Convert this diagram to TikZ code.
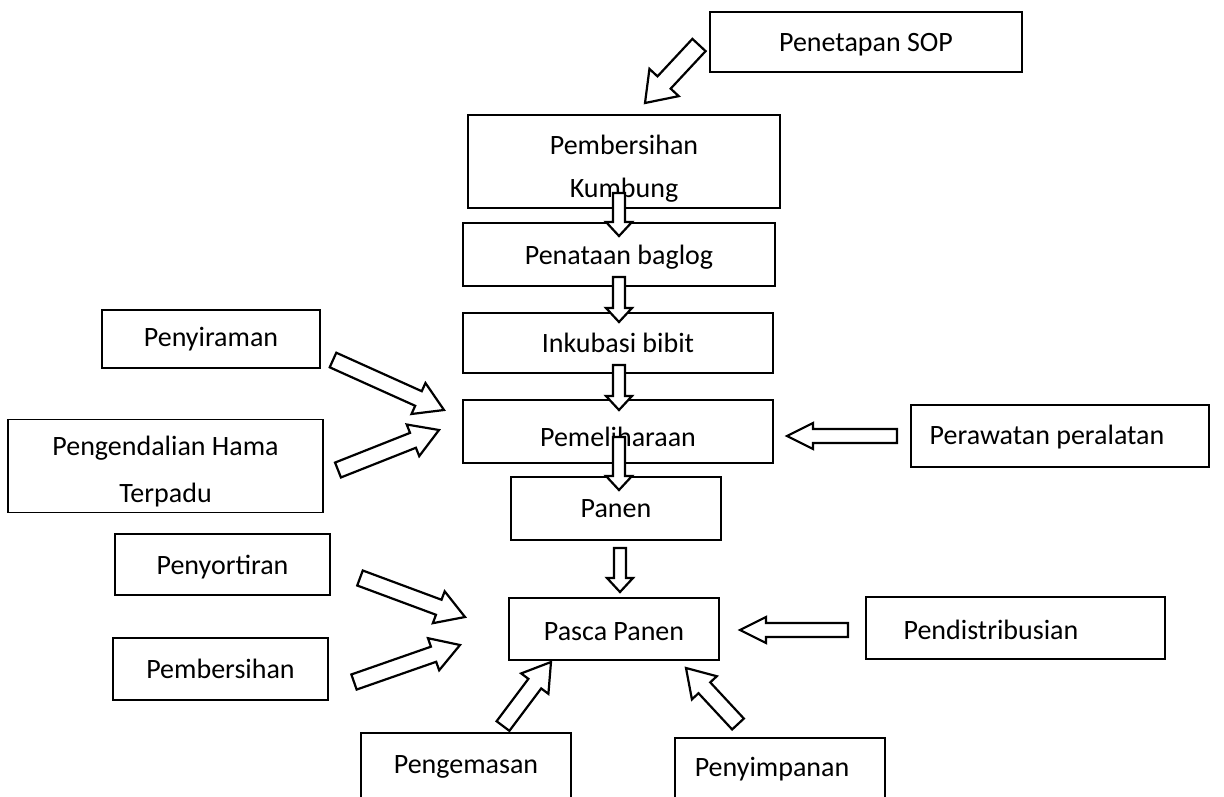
\documentclass[tikz,border=0pt]{standalone}
\usepackage{fontspec}
\setmainfont{Carlito}
\usetikzlibrary{calc}
\tikzset{
  box/.style={draw, line width=1.6pt, rectangle, inner sep=0pt, align=center,
    font=\fontsize{28}{43}\selectfont},
  blkarrow/.style={draw, fill=white, line width=2.2pt, line join=miter}
}
\newcommand\blk[5]{%
  \coordinate (hb) at ($(#2)!#5!(#1)$);
  \draw[blkarrow] ($(#1)!#3!90:(#2)$) -- ($(hb)!#3!-90:(#1)$) -- ($(hb)!#4!-90:(#1)$) -- (#2)
    -- ($(hb)!#4!90:(#1)$) -- ($(hb)!#3!90:(#1)$) -- ($(#1)!#3!-90:(#2)$) -- cycle;
}
\begin{document}
\begin{tikzpicture}[x=1pt,y=-1pt]
\useasboundingbox (0,0) rectangle (1224,796);
\clip (0,0) rectangle (1224,796);
\fill[white] (0,0) rectangle (1224,796);
% boxes
\node[box, minimum width=312pt, minimum height=60pt] (sop) at (866,42) {\rule{0pt}{24pt}Penetapan SOP};
\node[box, minimum width=312pt, minimum height=93pt] (pk) at (624,161.5) {\rule{0pt}{34pt}Pembersihan\\Kumbung};
\node[box, minimum width=312pt, minimum height=63pt] (pb) at (619,254.5) {\rule{0pt}{25pt}Penataan baglog};
\node[box, minimum width=310pt, minimum height=60pt] (ib) at (618,343) {Inkubasi bibit};
\node[box, minimum width=310pt, minimum height=63pt] (pm) at (618,431.5) {\rule{0pt}{30pt}Pemeliharaan};
\node[box, minimum width=210pt, minimum height=63pt] (pn) at (616,508.5) {Panen};
\node[box, minimum width=210pt, minimum height=62pt] (pp) at (614,629) {\rule{0pt}{24pt}Pasca Panen};
\node[box, minimum width=218pt, minimum height=58pt] (sir) at (211,339) {Penyiraman};
\node[box, minimum width=315pt, minimum height=93pt] (hama) at (165.5,466) {\rule{0pt}{30pt}Pengendalian Hama\\[4pt]Terpadu};
\node[box, minimum width=298pt, minimum height=62pt] (raw) at (1060,436) {\rule{0pt}{22pt}\hspace*{-26pt}Perawatan peralatan};
\node[box, minimum width=215pt, minimum height=61pt] (sort) at (222.5,564.5) {\rule{0pt}{24pt}Penyortiran};
\node[box, minimum width=215pt, minimum height=62pt] (bers) at (220.5,669) {Pembersihan};
\node[box, minimum width=299pt, minimum height=62pt] (dist) at (1015.5,628) {\rule{0pt}{24pt}\hspace*{-49pt}Pendistribusian};
\node[box, minimum width=210pt, minimum height=67pt] (kemas) at (466,766.5) {Pengemasan};
\node[box, minimum width=210pt, minimum height=62pt] (simpan) at (780,769) {\hspace*{-16pt}Penyimpanan};
% arrow end points
\coordinate (sopT) at (699,45);   \coordinate (sopH) at (645,103);
\coordinate (a1T) at (619,193);   \coordinate (a1H) at (619,236);
\coordinate (a2T) at (619,277);   \coordinate (a2H) at (619,322);
\coordinate (a3T) at (619,365);   \coordinate (a3H) at (619,410);
\coordinate (a4T) at (619,437);   \coordinate (a4H) at (619,490);
\coordinate (a5T) at (620,548);   \coordinate (a5H) at (620,592);
\coordinate (sirT) at (333,360);  \coordinate (sirH) at (444,410);
\coordinate (hamaT) at (338,470); \coordinate (hamaH) at (439,430);
\coordinate (rawT) at (897,436);  \coordinate (rawH) at (787,436);
\coordinate (sortT) at (360,578); \coordinate (sortH) at (465,617);
\coordinate (bersT) at (354,682); \coordinate (bersH) at (460,645);
\coordinate (distT) at (848,630); \coordinate (distH) at (740,630);
\coordinate (kemasT) at (503,726); \coordinate (kemasH) at (551,662);
\coordinate (simpanT) at (738,724); \coordinate (simpanH) at (686,668);
% block arrows
\blk{sopT}{sopH}{9pt}{20pt}{28pt}
\blk{a1T}{a1H}{6pt}{13pt}{14pt}
\blk{a2T}{a2H}{6pt}{13pt}{14pt}
\blk{a3T}{a3H}{6pt}{13pt}{14pt}
\blk{a4T}{a4H}{6pt}{13pt}{14pt}
\blk{a5T}{a5H}{6pt}{13pt}{14pt}
\blk{sirT}{sirH}{8pt}{17pt}{28pt}
\blk{hamaT}{hamaH}{8pt}{17pt}{28pt}
\blk{rawT}{rawH}{7pt}{13pt}{26pt}
\blk{sortT}{sortH}{8pt}{17pt}{28pt}
\blk{bersT}{bersH}{8pt}{17pt}{28pt}
\blk{distT}{distH}{7pt}{13pt}{26pt}
\blk{kemasT}{kemasH}{8pt}{17pt}{27pt}
\blk{simpanT}{simpanH}{8pt}{17pt}{27pt}
\end{tikzpicture}
\end{document}
